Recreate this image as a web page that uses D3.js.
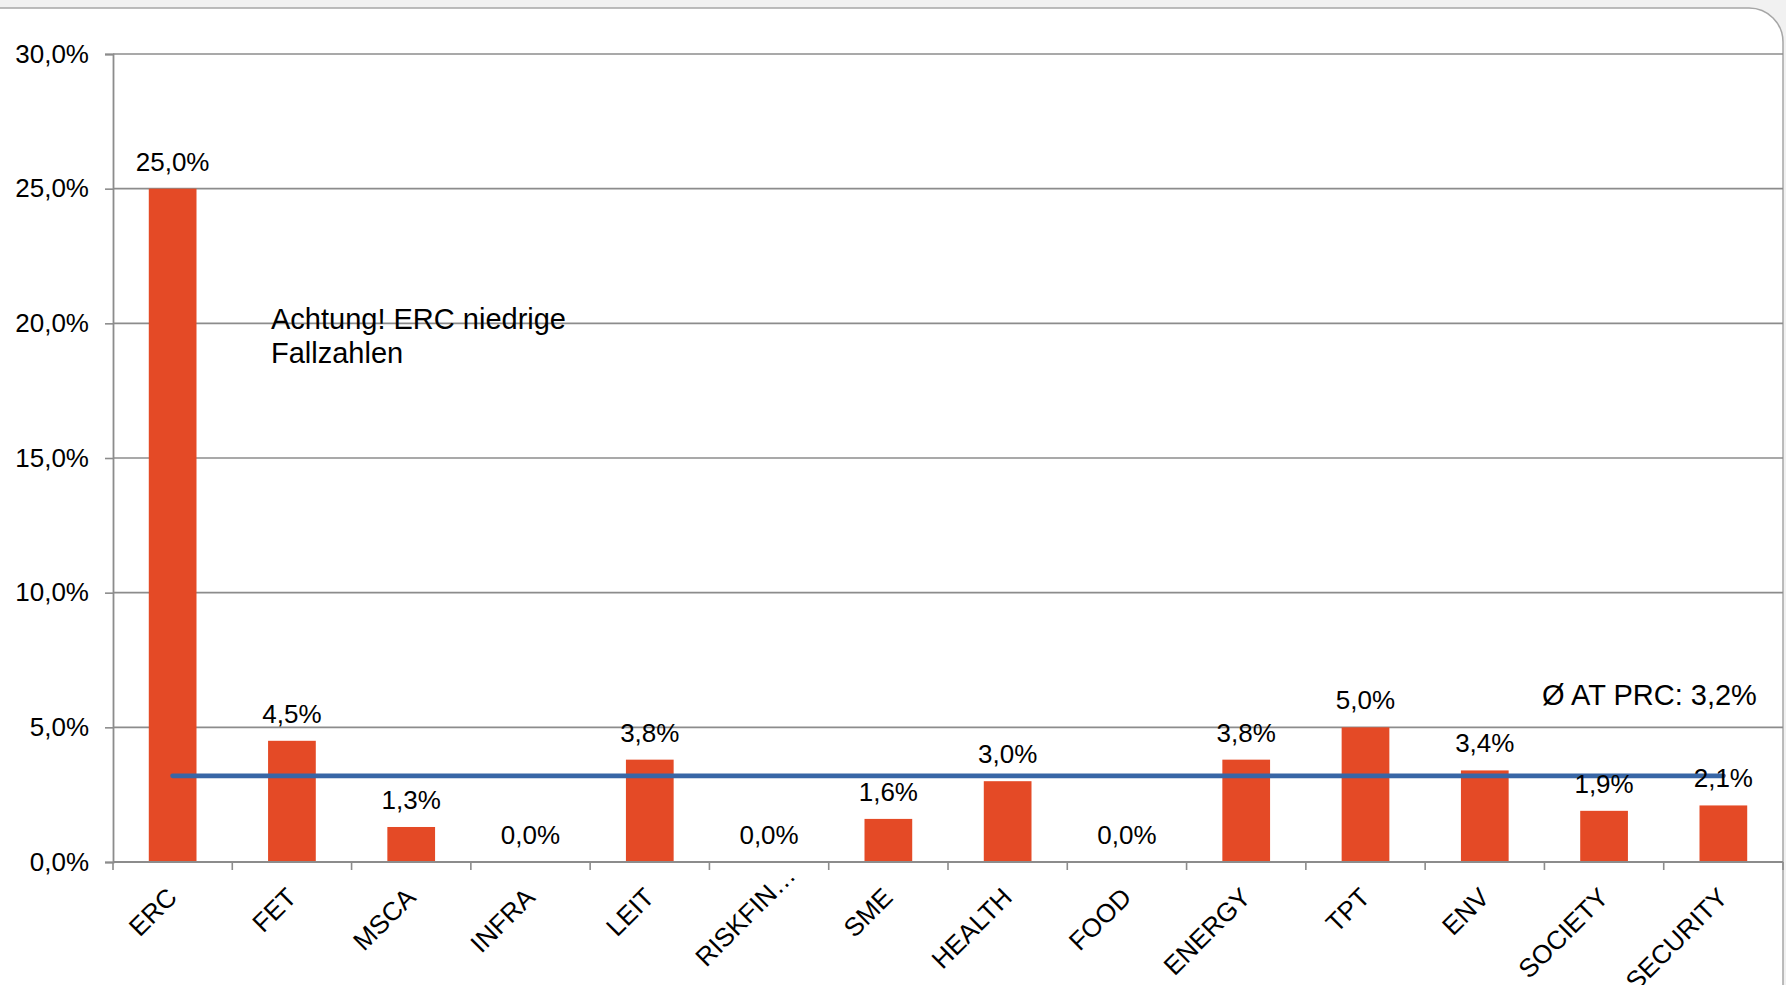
<!DOCTYPE html>
<html>
<head>
<meta charset="utf-8">
<script src="https://cdn.jsdelivr.net/npm/d3@7"></script>
<style>
  html, body { margin: 0; padding: 0; background: #ffffff; }
  svg { display: block; }
  text { font-family: "Liberation Sans", Arial, sans-serif; fill: #000; }
</style>
</head>
<body>
<svg id="chart" width="1786" height="985"></svg>
<script>
// ---- data ----
const categories = ["ERC", "FET", "MSCA", "INFRA", "LEIT", "RISKFIN\u2026", "SME", "HEALTH", "FOOD", "ENERGY", "TPT", "ENV", "SOCIETY", "SECURITY"];
const values = [25.0, 4.5, 1.3, 0.0, 3.8, 0.0, 1.6, 3.0, 0.0, 3.8, 5.0, 3.4, 1.9, 2.1];
const yTicks = [0, 5, 10, 15, 20, 25, 30];
const averageValue = 3.2;
const averageLabel = "\u00D8 AT PRC: 3,2%";
const noteLines = ["Achtung! ERC niedrige", "Fallzahlen"];

(function () {
const fmt = v => v.toFixed(1).replace(".", ",") + "%";

const svg = d3.select("#chart");
const W = 1786, H = 985;
const mLeft = 113, mRight = 1783, mTop = 54, mBottom = 862;

// page frame: light strip above, rounded panel
svg.append("rect").attr("x", 0).attr("y", 0).attr("width", W).attr("height", H).attr("fill", "#f1f1f1");
svg.append("rect").attr("x", -40).attr("y", 8).attr("width", mRight + 40).attr("height", H + 40)
  .attr("rx", 34).attr("ry", 34).attr("fill", "#ffffff").attr("stroke", "#a6a6a6").attr("stroke-width", 1.5);

const x = d3.scaleBand().domain(categories).range([mLeft, mRight]).paddingInner(0.6).paddingOuter(0.3);
const y = d3.scaleLinear().domain([0, 30]).range([mBottom, mTop]);

// gridlines
svg.append("g").selectAll("line").data(yTicks.filter(t => t > 0)).join("line")
  .attr("x1", mLeft).attr("x2", mRight)
  .attr("y1", d => y(d)).attr("y2", d => y(d))
  .attr("stroke", "#8c8c8c").attr("stroke-width", 1.6);

// y axis
const yAxis = d3.axisLeft(y).tickValues(yTicks).tickSize(8).tickPadding(16).tickFormat(fmt);
const gy = svg.append("g").attr("transform", `translate(${mLeft},0)`).call(yAxis);
gy.select(".domain").attr("stroke", "#8c8c8c").attr("stroke-width", 1.8);
gy.selectAll(".tick line").attr("stroke", "#8c8c8c").attr("stroke-width", 1.6);
gy.selectAll(".tick text").attr("font-size", 26).attr("font-family", "Liberation Sans, Arial, sans-serif").attr("fill", "#000");

// bars
svg.append("g").selectAll("rect").data(values).join("rect")
  .attr("x", (d, i) => x(categories[i]))
  .attr("width", x.bandwidth())
  .attr("y", d => y(d))
  .attr("height", d => y(0) - y(d))
  .attr("fill", "#e44a26");

// x axis
const step = x.step();
const gx = svg.append("g");
gx.append("line").attr("x1", mLeft).attr("x2", mRight).attr("y1", mBottom).attr("y2", mBottom)
  .attr("stroke", "#8c8c8c").attr("stroke-width", 1.8);
gx.selectAll("line.tk").data(d3.range(categories.length + 1)).join("line").attr("class", "tk")
  .attr("x1", i => mLeft + i * step).attr("x2", i => mLeft + i * step)
  .attr("y1", mBottom).attr("y2", mBottom + 8)
  .attr("stroke", "#8c8c8c").attr("stroke-width", 1.6);
gx.selectAll("text").data(categories).join("text")
  .attr("transform", d => {
    const shift = d.endsWith("\u2026") ? 22 : 0; // truncated label sits further along its diagonal
    return `translate(${x(d) + x.bandwidth() / 2 + 6 + shift},${mBottom + 37 - shift}) rotate(-45)`;
  })
  .attr("text-anchor", "end")
  .attr("font-size", 26)
  .text(d => d);

// average line
const line = d3.line().x(d => x(d) + x.bandwidth() / 2).y(() => y(averageValue));
svg.append("path").datum([categories[0], categories[categories.length - 1]])
  .attr("d", line).attr("fill", "none").attr("stroke", "#3866a6")
  .attr("stroke-width", 4.8).attr("stroke-linecap", "round");

// value labels
svg.append("g").selectAll("text").data(values).join("text")
  .attr("x", (d, i) => x(categories[i]) + x.bandwidth() / 2)
  .attr("y", d => y(d) - 18)
  .attr("text-anchor", "middle")
  .attr("font-size", 26)
  .text(d => fmt(d));

// average label
svg.append("text").attr("x", 1542).attr("y", 705).attr("font-size", 29).text(averageLabel);

// note
svg.append("g").selectAll("text").data(noteLines).join("text")
  .attr("x", 271).attr("y", (d, i) => 329 + i * 34)
  .attr("font-size", 29).text(d => d);
})();
</script>
</body>
</html>
